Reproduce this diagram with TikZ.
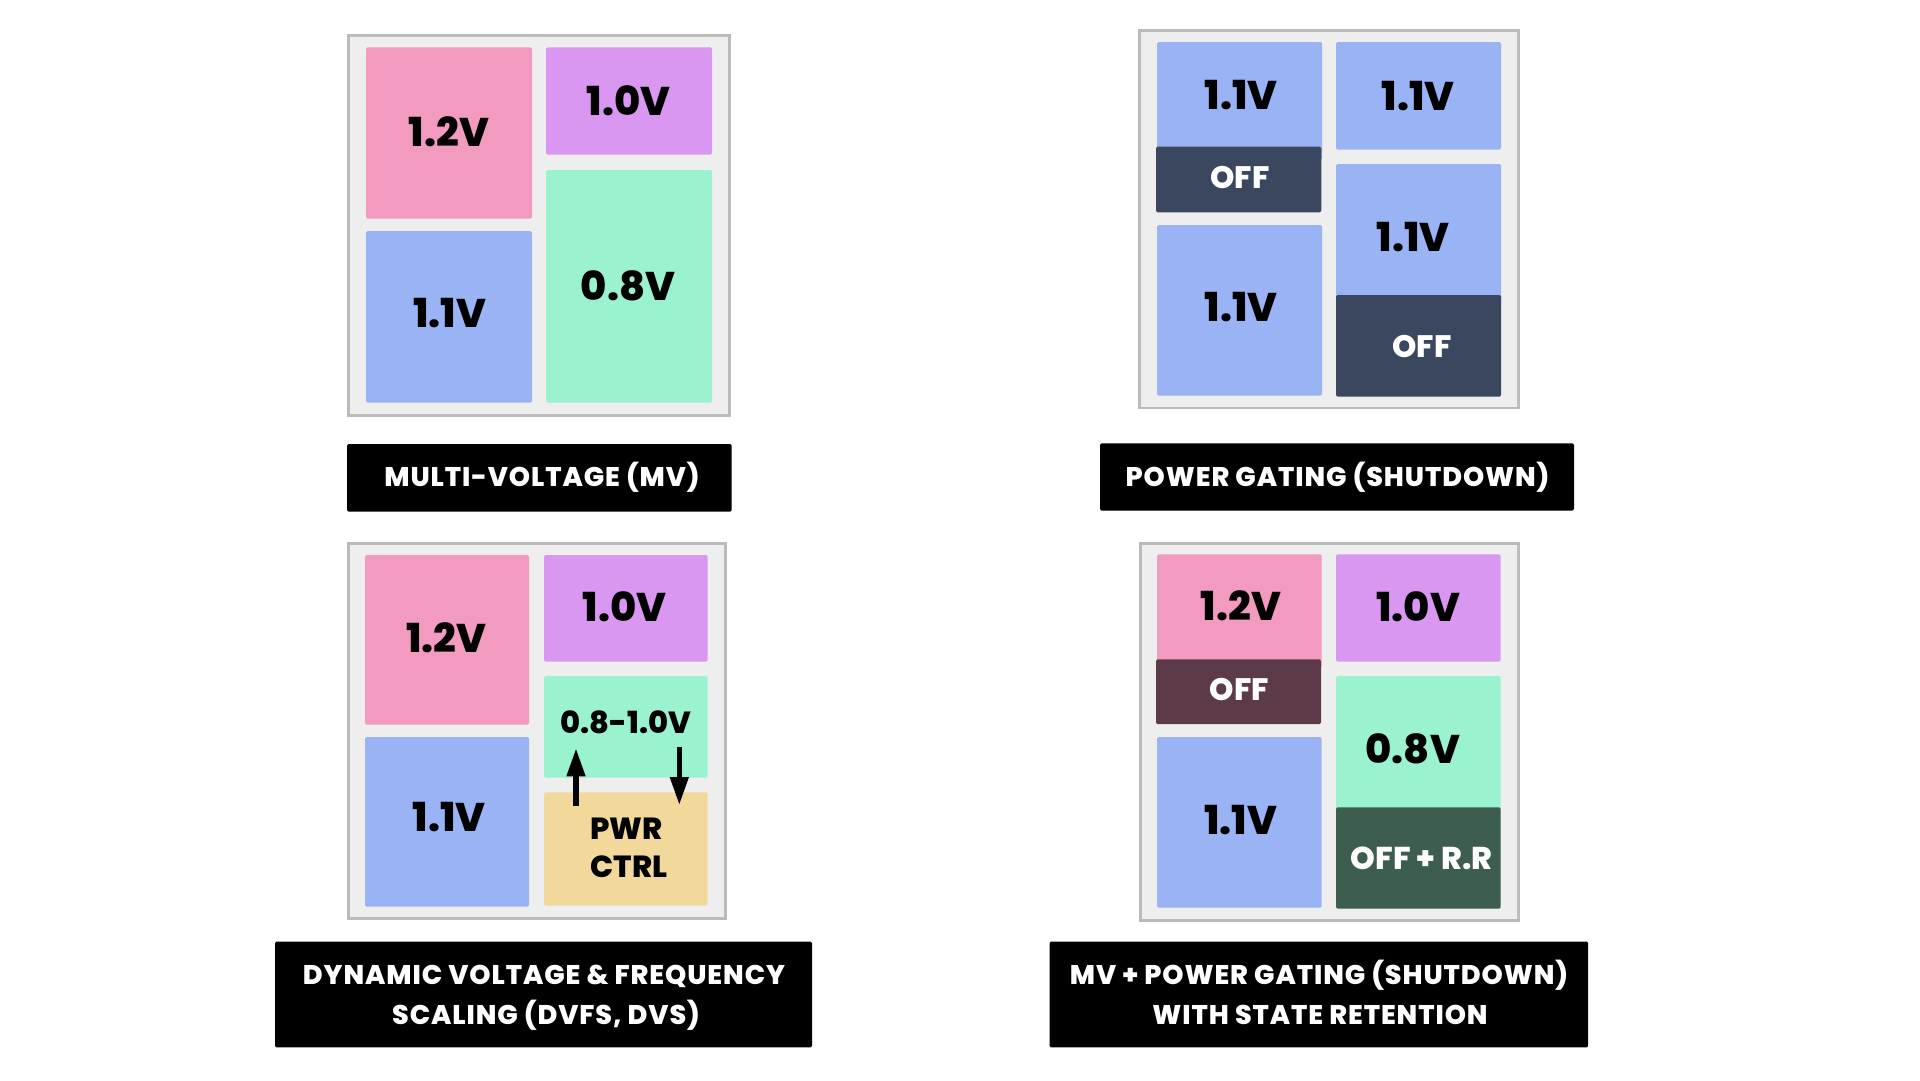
\documentclass[tikz,border=0pt]{standalone}
\usepackage{fontspec}
\IfFontExistsTF{Poppins ExtraBold}
  {\setmainfont{Poppins}[BoldFont={Poppins ExtraBold}]\newcommand\lblsp{\addfontfeatures{LetterSpace=3.4}}}
  {\setmainfont{Poppins}\newcommand\lblsp{\addfontfeatures{LetterSpace=3.7}}}
\usetikzlibrary{arrows.meta}
\definecolor{cpink}{HTML}{F39AC1}
\definecolor{cpurple}{HTML}{D997F2}
\definecolor{cblue}{HTML}{9AB3F4}
\definecolor{cgreen}{HTML}{9AF2CE}
\definecolor{cyellow}{HTML}{F2D99B}
\definecolor{cnavy}{HTML}{3B465F}
\definecolor{cmaroon}{HTML}{5C3A4A}
\definecolor{cdkgreen}{HTML}{3D5E4F}
\definecolor{cchip}{HTML}{EEEEEE}
\definecolor{cborder}{HTML}{BBBBBB}
\tikzset{
  chip/.style={fill=cchip, draw=cborder, line width=2.8pt},
  blk/.style={rounded corners=1.5pt},
  lbl/.style={fill=black, rounded corners=1.5pt},
  vbig/.style={anchor=base, inner sep=0pt, font=\fontsize{40}{48}\selectfont\bfseries},
  voff/.style={anchor=base, inner sep=0pt, text=white, font=\fontsize{31}{38}\selectfont\bfseries},
  vsm/.style={anchor=base, inner sep=0pt, font=\fontsize{30.5}{36}\selectfont\bfseries},
  ltxt/.style={anchor=base, inner sep=0pt, text=white, font=\fontsize{27}{32}\selectfont\bfseries\lblsp},
  ctlarrow/.style={line width=5.3pt, -{Triangle[length=28pt,width=17.7pt]}}
}
\begin{document}
\begin{tikzpicture}[x=1pt,y=-1pt]
\useasboundingbox (0,0) rectangle (1920,1080);
\fill[white] (0,0) rectangle (1920,1080);

% ---------------- Panel 1: Multi-voltage ----------------
\draw[chip] (348.7,35.4) rectangle (729.6,415.3);
\fill[blk, cpink]   (366,47.3) rectangle (532,218.7);
\fill[blk, cpurple] (546,47.3) rectangle (712,154.7);
\fill[blk, cblue]   (366,231) rectangle (532,402.7);
\fill[blk, cgreen]  (546,170) rectangle (712,402.7);
\node[vbig] (p1a) at (449,146) {1.2V};
\node[vbig] (p1b) at (628.5,115) {1.0V};
\node[vbig] (p1c) at (449.5,327.3) {1.1V};
\node[vbig] (p1d) at (628,300) {0.8V};
\fill[lbl] (347,444) rectangle (731.7,511.7);
\node[ltxt] (l1) at (542,486.3) {MULTI-VOLTAGE (MV)};

% ---------------- Panel 2: Power gating ----------------
\draw[chip] (1139.7,30.7) rectangle (1518.6,408);
\fill[blk, cblue]  (1157,42) rectangle (1322,160);
\fill[blk, cnavy]  (1156,146.7) rectangle (1321.3,212.3);
\fill[blk, cblue]  (1336,42) rectangle (1501,149.7);
\fill[blk, cblue]  (1157,225) rectangle (1322,395.7);
\fill[blk, cblue]  (1336,164) rectangle (1501,305);
\fill[blk, cnavy]  (1336,295) rectangle (1501,396.7);
\node[vbig] (p2a) at (1241,109.3) {1.1V};
\node[voff] (p2b) at (1240,188.3) {OFF};
\node[vbig] (p2c) at (1418,110) {1.1V};
\node[vbig] (p2d) at (1241,321.7) {1.1V};
\node[vbig] (p2e) at (1413,251.7) {1.1V};
\node[voff] (p2f) at (1422,357.3) {OFF};
\fill[lbl] (1100,443.3) rectangle (1574,510.7);
\node[ltxt] (l2) at (1337.5,486.3) {POWER GATING (SHUTDOWN)};

% ---------------- Panel 3: DVFS ----------------
\draw[chip] (348.7,543.1) rectangle (725.3,918.6);
\fill[blk, cpink]   (365,555) rectangle (529,724.7);
\fill[blk, cpurple] (544,555) rectangle (707.7,661.7);
\fill[blk, cblue]   (365,737) rectangle (529,906.7);
\fill[blk, cgreen]  (544,676) rectangle (707.7,777.7);
\fill[blk, cyellow] (544,792.3) rectangle (707.7,905.7);
\node[vbig] (p3a) at (446.3,652.7) {1.2V};
\node[vbig] (p3b) at (624.7,621.7) {1.0V};
\node[vbig] (p3c) at (449.3,831.7) {1.1V};
\node[vsm]  (p3d) at (625.8,733.3) {0.8-1.0V};
\node[vsm, anchor=base west] (p3e) at (590,839.3) {PWR};
\node[vsm, anchor=base west] (p3f) at (590.5,877.3) {CTRL};
\coordinate (upfrom) at (576,806);
\coordinate (upto)   at (576,748.3);
\coordinate (dnfrom) at (679.3,747.3);
\coordinate (dnto)   at (679.3,805);
\draw[ctlarrow] (upfrom) -- (upto);
\draw[ctlarrow] (dnfrom) -- (dnto);
\fill[lbl] (275,941.7) rectangle (812,1047.3);
\node[ltxt] (l3a) at (544,984) {DYNAMIC VOLTAGE \& FREQUENCY};
\node[ltxt] (l3b) at (546,1024) {SCALING (DVFS, DVS)};

% ---------------- Panel 4: MV + PG with retention ----------------
\draw[chip] (1140.4,543.1) rectangle (1518.6,920.3);
\fill[blk, cpink]    (1157,554.3) rectangle (1321.7,668);
\fill[blk, cmaroon]  (1156,659.3) rectangle (1321,724);
\fill[blk, cpurple]  (1336,554.3) rectangle (1500.7,661.7);
\fill[blk, cgreen]   (1336,676) rectangle (1500.7,816);
\fill[blk, cdkgreen] (1336,807.3) rectangle (1500.7,908.7);
\fill[blk, cblue]    (1157,737) rectangle (1321.7,907.7);
\node[vbig] (p4a) at (1240.8,620.7) {1.2V};
\node[voff] (p4b) at (1239.3,700) {OFF};
\node[vbig] (p4c) at (1418.3,621.7) {1.0V};
\node[vbig] (p4d) at (1412.8,763.3) {0.8V};
\node[vbig] (p4e) at (1240.8,834) {1.1V};
\node[voff, font=\fontsize{31.5}{38}\selectfont\bfseries] (p4f) at (1421.7,869) {OFF + R.R};
\fill[lbl] (1049.5,941.7) rectangle (1588.2,1047.3);
\node[ltxt] (l4a) at (1319,984) {MV + POWER GATING (SHUTDOWN)};
\node[ltxt] (l4b) at (1320,1024) {WITH STATE RETENTION};
\end{tikzpicture}
\end{document}
